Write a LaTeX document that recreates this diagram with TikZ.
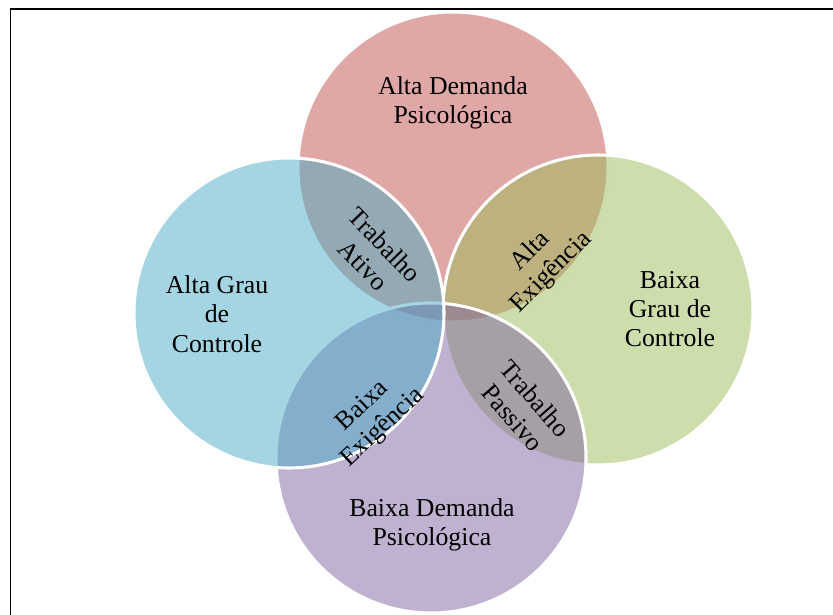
\documentclass[tikz,border=0pt]{standalone}
\usepackage{fontspec}
\setmainfont{Liberation Serif}
\definecolor{demanda}{HTML}{C0504D}
\definecolor{controle}{HTML}{9BBB59}
\definecolor{passiva}{HTML}{8064A2}
\definecolor{ativo}{HTML}{4BACC6}

\begin{document}
\begin{tikzpicture}[x=0.03cm,y=-0.03cm,
 font=\fontsize{22}{25}\selectfont,
 disc/.style={fill opacity=0.5,draw=white,draw opacity=1,line width=2.6pt},
 areatext/.style={align=center,inner sep=0pt},
 lenstext/.style={align=center,inner sep=0pt}]

\useasboundingbox (0,0) rectangle (833,615);
\draw[black,line width=1.6pt] (10.5,640)--(10.5,9)--(850,9);

% drawing order sets which white rim lies on top
\foreach \cx/\cy/\col in {453/167/demanda,598/310/controle,431/458/passiva,289/313/ativo}{
  \filldraw[disc,fill=\col] (\cx,\cy) circle (155);
}

\node[areatext] (altaDemanda) at (453,103) {Alta Demanda\\Psicológica};
\node[areatext] (altoControle) at (217,314) {Alta Grau\\de\\Controle};
\node[areatext] (baixoControle) at (670,309) {Baixa\\Grau de\\Controle};
\node[areatext] (baixaDemanda) at (432,525) {Baixa Demanda\\Psicológica};

\node[lenstext,rotate=-46] (ativoLens) at (374,255) {Trabalho\\Ativo};
\node[lenstext,rotate=45] (exigAlta) at (541,262) {Alta\\Exigência};
\node[lenstext,rotate=43] (exigBaixa) at (373,417) {Baixa\\Exigência};
\node[lenstext,rotate=-49] (passivoLens) at (524,408) {Trabalho\\Passivo};
\end{tikzpicture}
\end{document}
